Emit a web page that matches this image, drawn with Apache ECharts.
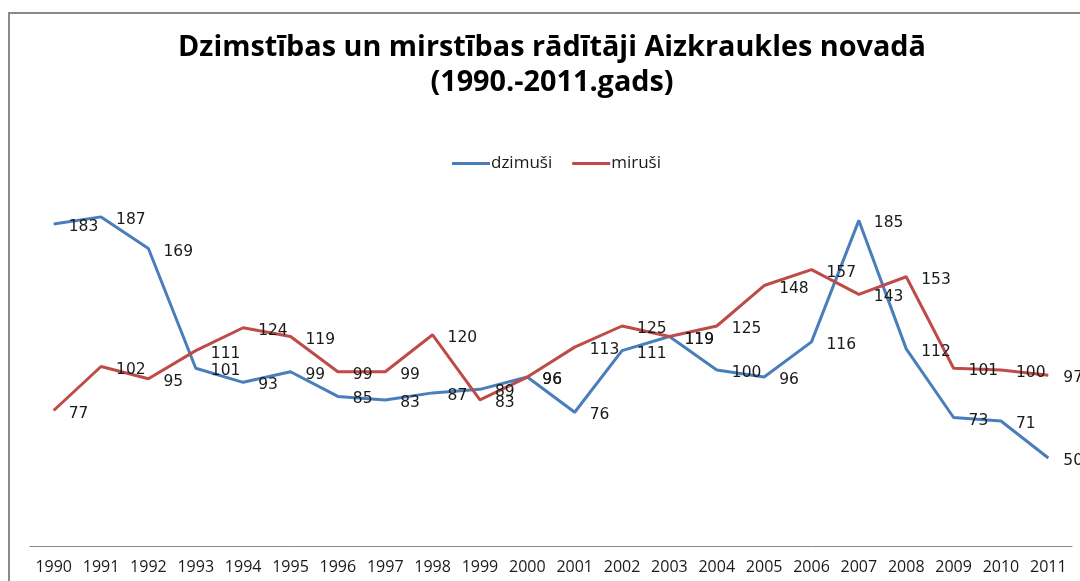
<!DOCTYPE html>
<html>
<head>
<meta charset="utf-8">
<script src="https://cdn.jsdelivr.net/npm/echarts@6/dist/echarts.min.js"></script>
<style>
  html, body { margin: 0; padding: 0; background: #fff; }
  #chart { width: 1080px; height: 581px; }
  /* Excel chart-area frame, cut off on the right and bottom */
  #frame {
    position: absolute; left: 8px; top: 12px; width: 1100px; height: 600px;
    border-top: 2px solid #8a8a8a; border-left: 2px solid #8a8a8a;
    pointer-events: none;
  }
</style>
</head>
<body>
<div id="chart"></div>
<div id="frame"></div>
<script>
// gadi
const years = ['1990', '1991', '1992', '1993', '1994', '1995', '1996', '1997', '1998', '1999', '2000',
  '2001', '2002', '2003', '2004', '2005', '2006', '2007', '2008', '2009', '2010', '2011'];
// dzimušo skaits
const dzimusi = [183, 187, 169, 101, 93, 99, 85, 83, 87, 89, 96, 76, 111, 119, 100, 96, 116, 185, 112, 73, 71, 50];
// mirušo skaits
const mirusi = [77, 102, 95, 111, 124, 119, 99, 99, 120, 83, 96, 113, 125, 119, 125, 148, 157, 143, 153, 101, 100, 97];

const chart = echarts.init(document.getElementById('chart'));

const labelStyle = {
  show: true,
  position: 'right',
  distance: 15,
  offset: [0, 3],
  color: '#1a1a1a',
  fontFamily: 'DejaVu Sans',
  fontSize: 15.5
};

const option = {
  animation: false,
  title: {
    text: 'Dzimstības un mirstības rādītāji Aizkraukles novadā\n(1990.-2011.gads)',
    left: 547,
    textAlign: 'center',
    top: 25,
    textStyle: {
      fontFamily: 'Open Sans',
      fontWeight: 'bold',
      fontSize: 28.8,
      lineHeight: 35,
      color: '#000'
    }
  },
  legend: {
    top: 150,
    left: 447,
    itemWidth: 38,
    itemHeight: 3,
    itemGap: 20,
    icon: 'rect',
    textStyle: { fontFamily: 'Open Sans', fontSize: 17, color: '#1a1a1a', padding: [0, 0, 0, -4] },
    data: ['dzimuši', 'miruši']
  },
  grid: { left: 30, right: 8, top: 194, height: 352 },
  xAxis: {
    type: 'category',
    data: years,
    boundaryGap: true,
    axisLine: { lineStyle: { color: '#888', width: 1 } },
    axisTick: { show: false },
    axisLabel: { interval: 0, margin: 13, fontFamily: 'Open Sans', fontSize: 16, color: '#1a1a1a' }
  },
  yAxis: {
    type: 'value',
    min: 0,
    max: 200,
    show: false,
    splitLine: { show: false }
  },
  series: [
    {
      name: 'dzimuši',
      type: 'line',
      data: dzimusi,
      symbol: 'circle',
      symbolSize: 0,
      showSymbol: true,
      lineStyle: { color: '#4a7ebb', width: 3 },
      itemStyle: { color: '#4a7ebb' },
      label: labelStyle
    },
    {
      name: 'miruši',
      type: 'line',
      data: mirusi,
      symbol: 'circle',
      symbolSize: 0,
      showSymbol: true,
      lineStyle: { color: '#be4b48', width: 3 },
      itemStyle: { color: '#be4b48' },
      label: labelStyle
    }
  ]
};

chart.setOption(option);
</script>
</body>
</html>
